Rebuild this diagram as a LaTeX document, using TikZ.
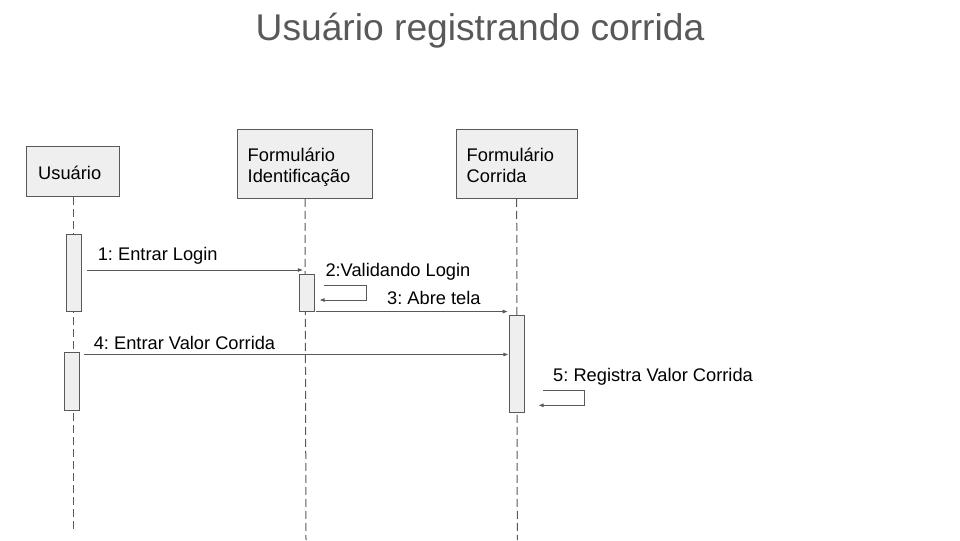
\documentclass[tikz,border=0pt]{standalone}
\usepackage{fontspec}
\setmainfont{Liberation Sans}
\frenchspacing
\usetikzlibrary{arrows.meta}
\definecolor{linegray}{RGB}{89,89,89}
\definecolor{boxfill}{RGB}{239,239,239}
\tikzset{every picture/.style={line width=0.75pt}}
\tikzset{
  objbox/.style={draw=linegray, fill=boxfill, inner sep=0pt},
  objtext/.style={anchor=north west, inner sep=0pt, align=left, font=\fontsize{13.7}{16.2}\selectfont},
  actbox/.style={draw=linegray, fill=boxfill, minimum width=11.25pt, inner sep=0pt},
  lifeline/.style={draw=linegray, dash pattern=on 6pt off 3pt},
  msg/.style={draw=linegray, -{Triangle[length=3.6pt,width=2.6pt]}},
  msglabel/.style={anchor=base west, inner sep=0pt, font=\fontsize{13.7}{15.5}\selectfont}
}

\begin{document}
\begin{tikzpicture}[x=0.75pt,y=0.75pt,yscale=-1,xscale=1]
\useasboundingbox (0,0) rectangle (960,540);

% Title
\node (title) [anchor=base, inner sep=0pt, text=linegray, font=\fontsize{27.9}{32}\selectfont] at (480,40) {Usuário registrando corrida};

%Shape: Rectangle [objects]
\node (usr) [objbox, minimum width=70pt, minimum height=37.5pt] at (73.3,171.7) {};
\node (fid) [objbox, minimum width=101.5pt, minimum height=51.75pt] at (305,163.8) {};
\node (fcor) [objbox, minimum width=91pt, minimum height=51.75pt] at (516.7,163.8) {};

% Text Node
\node (usrTxt) [objtext] at ([shift={(11.6,18.9)}]usr.north west) {Usuário};
% Text Node
\node (fidTxt) [objtext] at ([shift={(10.4,18.3)}]fid.north west) {Formulário\\Identificação};
% Text Node
\node (fcorTxt) [objtext] at ([shift={(10.7,18.3)}]fcor.north west) {Formulário\\Corrida};

%Straight Lines [lifelines]
\coordinate (usrEnd) at (73.3,531.7);
\coordinate (fidEnd) at (306,540);
\coordinate (fcorEnd) at (517.3,540);
\draw [lifeline] (usr.south) -- (usrEnd);
\draw [lifeline] (fid.south) -- (fidEnd);
\draw [lifeline] (fcor.south) -- (fcorEnd);

%Shape: Rectangle [activations]
\node (usrAct1) [actbox, minimum height=57.5pt] at (73.7,273.3) {};
\node (usrAct2) [actbox, minimum height=43.3pt] at (71.8,381.2) {};
\node (fidAct) [actbox, minimum height=27.5pt] at (306.8,292.7) {};
\node (fcorAct) [actbox, minimum height=72.4pt] at (516.8,363.8) {};

%Straight Lines [messages]
\draw [msg] ([xshift=3.75pt]usrAct1.east |- 0,270) -- ([xshift=-2.5pt]fidEnd |- 0,270);
\draw [msg] ([xshift=6.75pt]fidAct.east |- 0,285) -| ([xshift=38.5pt]fidAct.east |- 0,300) -- ([xshift=3.75pt]fidAct.east |- 0,300);
\draw [msg] ([xshift=1.2pt]fidAct.south east) -- ([xshift=-1pt]fcorAct.west |- fidAct.south east);
\draw [msg] ([xshift=3pt]usrAct2.east |- 0,354.5) -- ([xshift=-0.5pt]fcorAct.west |- 0,354.5);
\draw [msg] ([xshift=13.5pt]fcorAct.east |- 0,390) -| ([xshift=45pt]fcorAct.east |- 0,405.3) -- ([xshift=10.5pt]fcorAct.east |- 0,405.3);

% Text Node
\node (lbl1) [msglabel] at (97.3,260) {1: Entrar Login};
% Text Node
\node (lbl2) [msglabel] at (325,276) {2:Validando Login};
% Text Node
\node (lbl3) [msglabel] at (386.7,304) {3: Abre tela};
% Text Node
\node (lbl4) [msglabel] at (93.3,349) {4: Entrar Valor Corrida};
% Text Node
\node (lbl5) [msglabel] at (552.7,381.7) {5: Registra Valor Corrida};

\end{tikzpicture}
\end{document}
